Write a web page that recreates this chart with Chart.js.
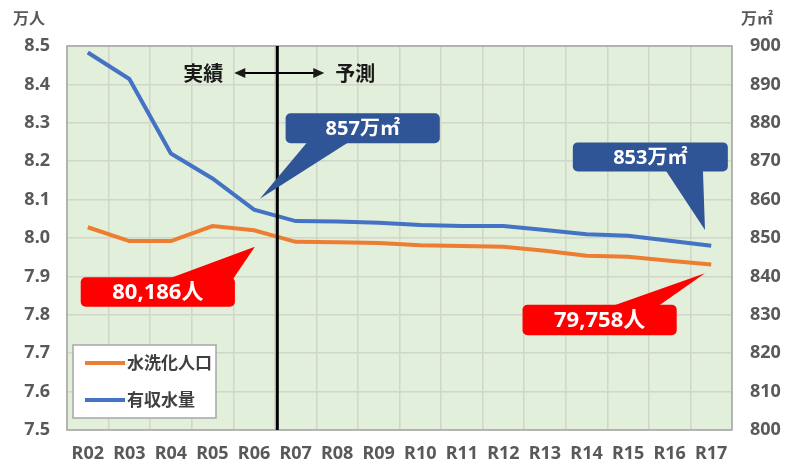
<!DOCTYPE html>
<html>
<head>
<meta charset="utf-8">
<script src="https://cdn.jsdelivr.net/npm/chart.js@4"></script>
<style>
  html, body { margin: 0; padding: 0; background: #fff; }
  #wrap { width: 787px; height: 464px; }
</style>
</head>
<body>
<div id="wrap"><canvas id="chart"></canvas></div>
<script>
const categories = ['R02', 'R03', 'R04', 'R05', 'R06', 'R07', 'R08', 'R09', 'R10', 'R11', 'R12', 'R13', 'R14', 'R15', 'R16', 'R17']
// 水洗化人口 (万人)
const population = [8.028, 7.992, 7.992, 8.031, 8.020, 7.990, 7.989, 7.987, 7.981, 7.979, 7.977, 7.967, 7.954, 7.951, 7.941, 7.931]
// 有収水量 (万㎡)
const water = [898.3, 891.4, 872.0, 865.5, 857.4, 854.4, 854.3, 854.0, 853.4, 853.1, 853.1, 852.1, 851.0, 850.6, 849.3, 848.0]
const leftTicks = [7.5, 8.5, 0.1]
const rightTicks = [800, 900, 10]

const FONT = "'Noto Sans', 'Noto Sans CJK JP', sans-serif"
const JP = "'Noto Sans CJK JP', 'Noto Sans', sans-serif"
const GRAY = '#595959'

const decorPlugin = {
  id: 'decor',
  beforeDraw (chart) {
    const { ctx, chartArea: a } = chart
    ctx.save()
    ctx.fillStyle = '#e2efda'
    ctx.fillRect(a.left, a.top, a.right - a.left, a.bottom - a.top)
    ctx.restore()
  },
  afterDraw (chart, args, opts) {
    const { ctx, chartArea: a, scales } = chart
    const x = scales.x
    ctx.save()

    // plot border
    ctx.strokeStyle = '#a6a6a6'
    ctx.lineWidth = 1.5
    ctx.strokeRect(a.left, a.top, a.right - a.left, a.bottom - a.top)

    // axis units
    ctx.fillStyle = GRAY
    ctx.font = 'bold 16px ' + JP
    ctx.textBaseline = 'middle'
    ctx.textAlign = 'left'
    ctx.fillText('万人', 13, 18)
    ctx.fillText('万㎡', 741, 18)

    // divider 実績 / 予測
    const dx = x.getPixelForValue(opts.divider)
    ctx.strokeStyle = '#000'
    ctx.lineWidth = 3
    ctx.beginPath()
    ctx.moveTo(dx, a.top)
    ctx.lineTo(dx, a.bottom)
    ctx.stroke()

    const ay = a.top + 27
    ctx.fillStyle = '#1a1a1a'
    ctx.font = 'bold 20px ' + JP
    ctx.textAlign = 'right'
    ctx.fillText('実績', dx - 54, ay)
    ctx.textAlign = 'left'
    ctx.fillText('予測', dx + 58, ay)
    ctx.lineWidth = 2
    ctx.beginPath()
    ctx.moveTo(dx - 38, ay)
    ctx.lineTo(dx + 42, ay)
    ctx.stroke()
    ctx.beginPath()
    ctx.moveTo(dx - 43, ay); ctx.lineTo(dx - 32, ay - 5); ctx.lineTo(dx - 32, ay + 5); ctx.closePath()
    ctx.moveTo(dx + 47, ay); ctx.lineTo(dx + 36, ay - 5); ctx.lineTo(dx + 36, ay + 5); ctx.closePath()
    ctx.fill()

    // callouts
    for (const c of opts.callouts) {
      const ys = scales[c.axis]
      const x1 = x.getPixelForValue(c.box[0]), y1 = ys.getPixelForValue(c.box[1])
      const x2 = x.getPixelForValue(c.box[2]), y2 = ys.getPixelForValue(c.box[3])
      const tx = x.getPixelForValue(c.tip[0]), ty = ys.getPixelForValue(c.tip[1])
      const by = ty < y1 ? y1 + 2 : y2 - 2
      ctx.fillStyle = c.color
      ctx.beginPath()
      ctx.roundRect(x1, y1, x2 - x1, y2 - y1, 5)
      ctx.fill()
      ctx.beginPath()
      ctx.moveTo(x.getPixelForValue(c.base[0]), by)
      ctx.lineTo(x.getPixelForValue(c.base[1]), by)
      ctx.lineTo(tx, ty)
      ctx.closePath()
      ctx.fill()
      ctx.fillStyle = '#fff'
      ctx.font = 'bold ' + c.size + 'px ' + FONT
      ctx.textAlign = 'center'
      ctx.textBaseline = 'middle'
      ctx.fillText(c.text, (x1 + x2) / 2, (y1 + y2) / 2 + 1)
    }

    // legend
    const lx = a.left + 6, ly = a.top + 299
    ctx.fillStyle = '#fff'
    ctx.fillRect(lx, ly, 143, 73)
    ctx.strokeStyle = '#a6a6a6'
    ctx.lineWidth = 1.5
    ctx.strokeRect(lx, ly, 143, 73)
    chart.data.datasets.forEach((ds, i) => {
      const yy = ly + 18 + i * 37
      ctx.strokeStyle = ds.borderColor
      ctx.lineWidth = 4
      ctx.beginPath()
      ctx.moveTo(lx + 12, yy)
      ctx.lineTo(lx + 52, yy)
      ctx.stroke()
      ctx.fillStyle = '#404040'
      ctx.font = 'bold 17px ' + JP
      ctx.textAlign = 'left'
      ctx.textBaseline = 'middle'
      ctx.fillText(ds.label, lx + 54, yy)
    })

    ctx.restore()
  }
}

new Chart(document.getElementById('chart'), {
  type: 'line',
  data: {
    labels: categories,
    datasets: [
      { label: '水洗化人口', data: population, yAxisID: 'y', borderColor: '#ed7d31', borderWidth: 4, pointRadius: 0, tension: 0 },
      { label: '有収水量', data: water, yAxisID: 'y1', borderColor: '#4472c4', borderWidth: 4, pointRadius: 0, tension: 0 }
    ]
  },
  options: {
    responsive: true,
    maintainAspectRatio: false,
    animation: false,
    layout: { padding: { top: 46 } },
    plugins: {
      legend: { display: false },
      tooltip: { enabled: false },
      decor: {
        divider: 4.56,
        callouts: [
          { text: '857万㎡', color: '#2f5597', axis: 'y1', size: 20, box: [4.76, 882.5, 8.47, 874.7], base: [5.30, 6.31], tip: [4.14, 860.2] },
          { text: '853万㎡', color: '#2f5597', axis: 'y1', size: 20, box: [11.67, 874.9, 15.40, 867.3], base: [13.89, 14.80], tip: [14.85, 852.1] },
          { text: '80,186人', color: '#ff0000', axis: 'y', size: 22, box: [-0.17, 7.898, 3.54, 7.821], base: [1.91, 3.49], tip: [4.02, 7.977] },
          { text: '79,758人', color: '#ff0000', axis: 'y', size: 22, box: [10.46, 7.826, 14.17, 7.747], base: [12.57, 13.70], tip: [14.85, 7.908] }
        ]
      }
    },
    scales: {
      x: {
        offset: true,
        grid: { offset: true, color: '#d0d6ca', lineWidth: 1.5, drawTicks: false },
        border: { display: false },
        ticks: { color: GRAY, font: { family: FONT, size: 18, weight: 'bold' }, padding: 13, maxRotation: 0, autoSkip: false },
        afterFit (s) { s.height = 34 }
      },
      y: {
        position: 'left',
        min: leftTicks[0],
        max: leftTicks[1],
        grid: { color: '#d0d6ca', lineWidth: 1.5, drawTicks: false },
        border: { display: false },
        ticks: { stepSize: leftTicks[2], color: GRAY, font: { family: FONT, size: 18, weight: 'bold' }, padding: 17, callback: v => Number(v).toFixed(1) },
        afterFit (s) { s.width = 67 }
      },
      y1: {
        position: 'right',
        min: rightTicks[0],
        max: rightTicks[1],
        grid: { display: false, drawTicks: false },
        border: { display: false },
        ticks: { stepSize: rightTicks[2], color: GRAY, font: { family: FONT, size: 18, weight: 'bold' }, padding: 18 },
        afterFit (s) { s.width = 55 }
      }
    }
  },
  plugins: [decorPlugin]
})
</script>
</body>
</html>
